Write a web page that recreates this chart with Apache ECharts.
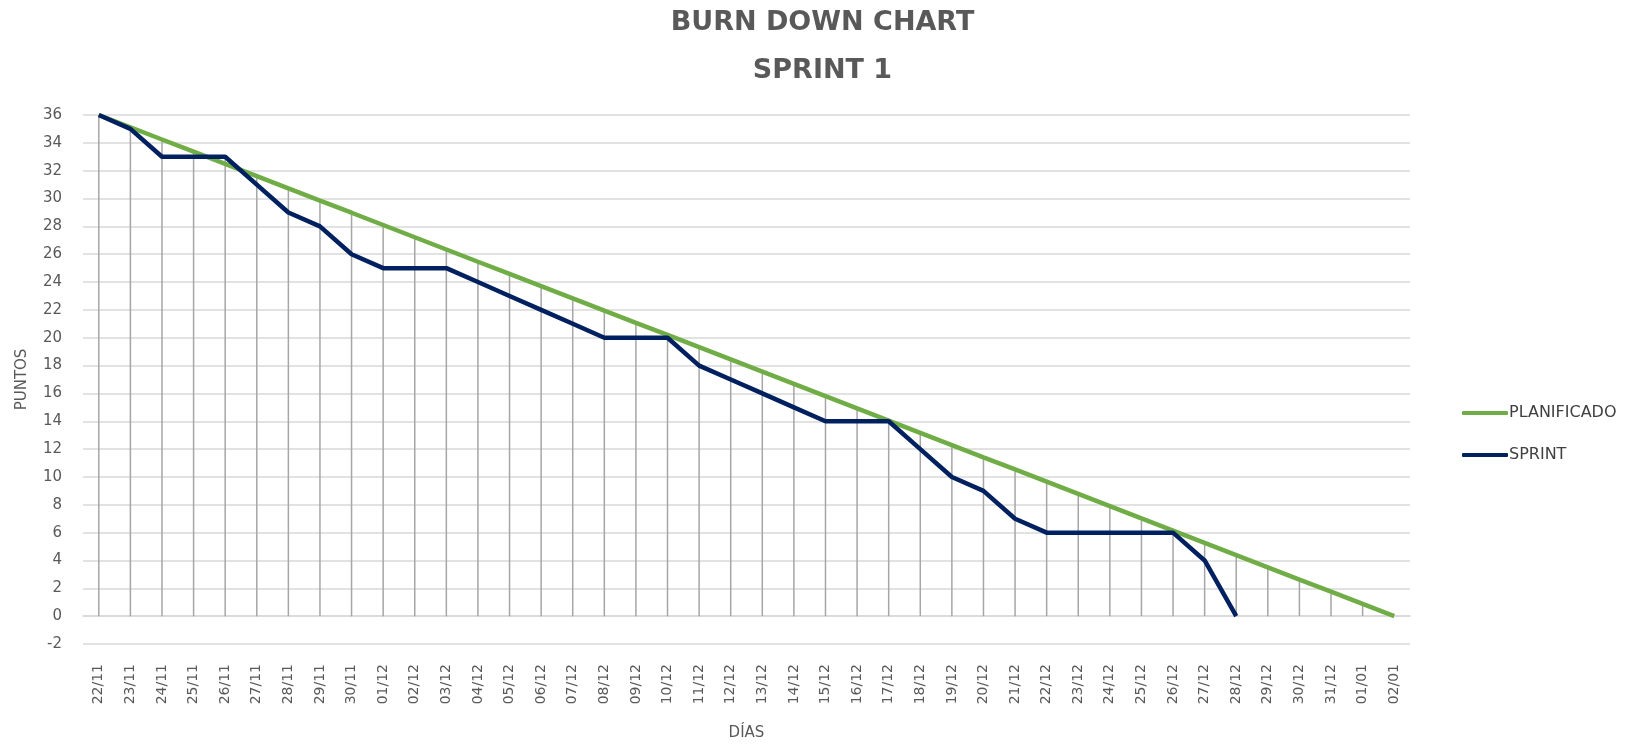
<!DOCTYPE html>
<html>
<head>
<meta charset="utf-8">
<script src="https://cdn.jsdelivr.net/npm/echarts@6/dist/echarts.min.js"></script>
<style>html,body{margin:0;padding:0;background:#fff;}#c{width:1645px;height:746px;}</style>
</head>
<body>
<div id="c"></div>
<script>
const categories = ['22/11','23/11','24/11','25/11','26/11','27/11','28/11','29/11','30/11',
  '01/12','02/12','03/12','04/12','05/12','06/12','07/12','08/12','09/12','10/12','11/12',
  '12/12','13/12','14/12','15/12','16/12','17/12','18/12','19/12','20/12','21/12','22/12',
  '23/12','24/12','25/12','26/12','27/12','28/12','29/12','30/12','31/12','01/01','02/01'];
const planificado = [36, 35.12, 34.24, 33.37, 32.49, 31.61, 30.73, 29.85, 28.98, 28.10,
  27.22, 26.34, 25.46, 24.59, 23.71, 22.83, 21.95, 21.07, 20.20, 19.32, 18.44, 17.56,
  16.68, 15.80, 14.93, 14.05, 13.17, 12.29, 11.41, 10.54, 9.66, 8.78, 7.90, 7.02, 6.15,
  5.27, 4.39, 3.51, 2.63, 1.76, 0.88, 0];
const sprint = [36, 35, 33, 33, 33, 31, 29, 28, 26, 25, 25, 25, 24, 23, 22, 21, 20, 20, 20,
  18, 17, 16, 15, 14, 14, 14, 12, 10, 9, 7, 6, 6, 6, 6, 6, 4, 0,
  null, null, null, null, null];
const yTicks = {min: -2, max: 36, interval: 2};

const dropLines = categories.map((c, i) => {
  const a = planificado[i], b = sprint[i];
  return b == null ? a : Math.max(a, b);
});

const txt = '#595959';
const chart = echarts.init(document.getElementById('c'), null, {renderer: 'canvas'});
chart.setOption({
  animation: false,
  backgroundColor: '#ffffff',
  title: [
    {text: 'BURN DOWN CHART', left: 'center', top: 4,
     textStyle: {fontFamily: 'DejaVu Sans', fontWeight: 'bold', fontSize: 27, color: txt}},
    {text: 'SPRINT 1', left: 'center', top: 52,
     textStyle: {fontFamily: 'DejaVu Sans', fontWeight: 'bold', fontSize: 27, color: txt}}
  ],
  legend: {
    orient: 'vertical', left: 1457, top: 400,
    data: ['PLANIFICADO', 'SPRINT'],
    itemWidth: 46, itemHeight: 4, itemGap: 26,
    icon: 'roundRect',
    textStyle: {fontFamily: 'DejaVu Sans', fontSize: 16, color: '#404040', padding: [0, 0, 0, -4]}
  },
  grid: {left: 83, right: 235, top: 115, bottom: 66, containLabel: false},
  xAxis: {
    type: 'category', data: categories, boundaryGap: true,
    name: 'DÍAS', nameLocation: 'middle', nameGap: 82,
    nameTextStyle: {fontFamily: 'DejaVu Sans', fontSize: 15, color: txt},
    axisLine: {show: true, onZero: true, lineStyle: {color: '#d9d9d9', width: 1.5}},
    axisTick: {show: false},
    axisLabel: {rotate: 90, margin: 20, fontFamily: 'DejaVu Sans', fontSize: 14, color: txt, interval: 0},
    splitLine: {show: false}
  },
  yAxis: {
    type: 'value', min: yTicks.min, max: yTicks.max, interval: yTicks.interval,
    name: 'PUNTOS', nameLocation: 'middle', nameGap: 53,
    nameTextStyle: {fontFamily: 'DejaVu Sans', fontSize: 15, color: txt},
    axisLine: {show: false}, axisTick: {show: false},
    axisLabel: {margin: 21, fontFamily: 'DejaVu Sans', fontSize: 15, color: txt},
    splitLine: {lineStyle: {color: '#d9d9d9', width: 1.5}}
  },
  series: [
    {name: 'drop', type: 'bar', data: dropLines, barWidth: 1.5, silent: true,
     itemStyle: {color: '#a6a6a6'}, z: 1},
    {name: 'PLANIFICADO', type: 'line', data: planificado, symbol: 'none',
     lineStyle: {color: '#70ad47', width: 4.5}, itemStyle: {color: '#70ad47'}, z: 3},
    {name: 'SPRINT', type: 'line', data: sprint, symbol: 'none',
     lineStyle: {color: '#002060', width: 4.5}, itemStyle: {color: '#002060'}, z: 4}
  ]
});
</script>
</body>
</html>
